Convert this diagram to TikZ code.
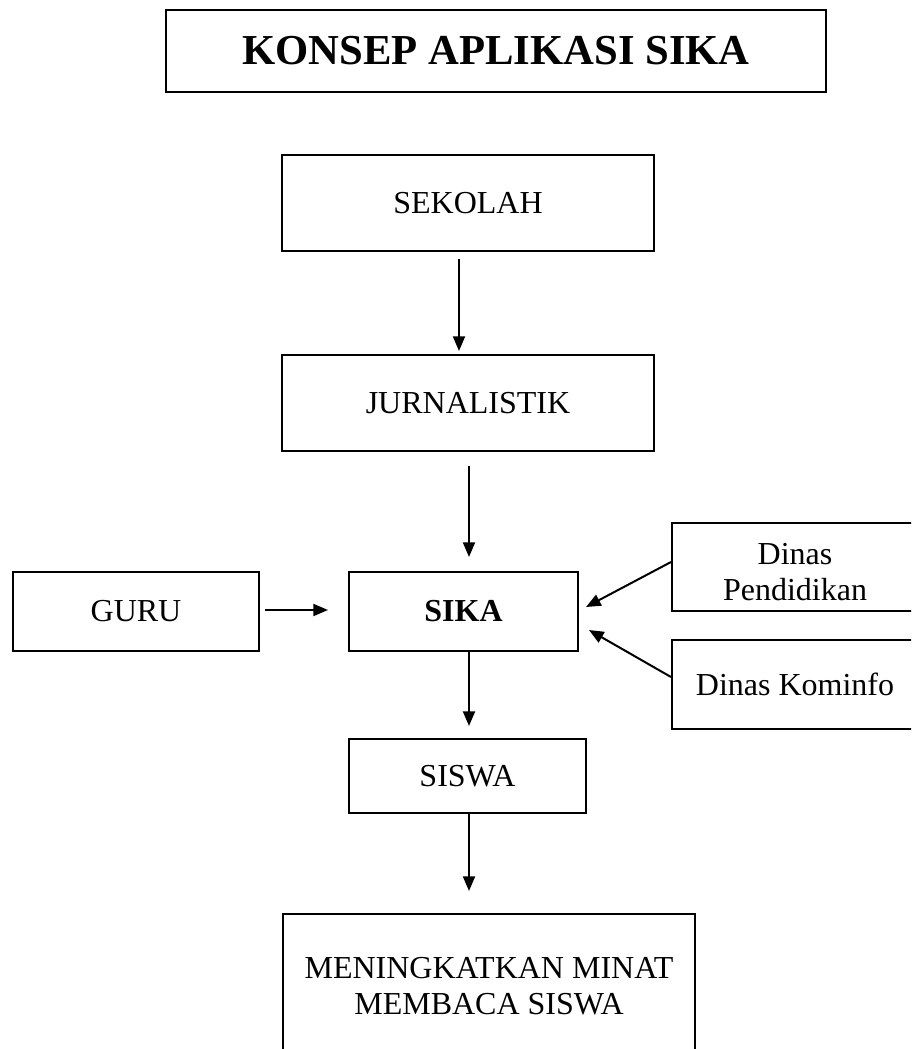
\documentclass[tikz,border=0pt]{standalone}
\usepackage{fontspec}
\setmainfont{Liberation Serif}
\usetikzlibrary{arrows.meta,calc}
\begin{document}
\begin{tikzpicture}[x=0.75pt,y=-0.75pt,
  box/.style={draw=black,line width=1.5pt,rectangle,inner sep=0pt,align=center,
    font=\fontsize{24}{27.5}\selectfont},
  arr/.style={line width=1.5pt,-{Triangle[length=11pt,width=9pt]}}]
\useasboundingbox (0,0) rectangle (911,1049);
\clip (0,0) rectangle (911,1049);
\fill[white] (0,0) rectangle (911,1049);
\node[box,minimum width=495pt,minimum height=62pt,font=\bfseries\fontsize{32}{35}\selectfont] (title) at (496,51) {KONSEP APLIKASI SIKA};
\node[box,minimum width=279pt,minimum height=72pt] (sek) at (468,203) {SEKOLAH};
\node[box,minimum width=279pt,minimum height=72pt] (jur) at (468,403) {JURNALISTIK};
\node[box,minimum width=171.75pt,minimum height=59.25pt,font=\bfseries\fontsize{24}{27.5}\selectfont] (sika) at (463.5,611.5) {SIKA};
\node[box,minimum width=184.5pt,minimum height=59.25pt] (guru) at (136,611.5) {GURU};
\node[box,minimum width=184.5pt,minimum height=66pt] (pend) at (795,567) {};
\node[font=\fontsize{24}{27.5}\selectfont,align=center,inner sep=0pt] (pendtxt) at (795,572) {Dinas\\Pendidikan};
\node[box,minimum width=184.5pt,minimum height=66.75pt] (kom) at (795,684.5) {Dinas Kominfo};
\node[box,minimum width=177.75pt,minimum height=55.5pt] (siswa) at (467.5,776) {SISWA};
\node[box,minimum width=309pt,minimum height=108pt] (minat) at (489,986) {MENINGKATKAN MINAT\\MEMBACA SISWA};
\draw[arr,shorten <=5.25pt,shorten >=2.25pt] ($(sek.south)+(-9,0)$) -- ($(jur.north)+(-9,0)$);
\draw[arr,shorten <=10.5pt,shorten >=10.5pt] ($(jur.south)+(1,0)$) -- ($(sika.north)+(5.5,0)$);
\draw[arr,shorten >=9pt] ($(sika.south)+(5.5,0)$) -- ($(siswa.north)+(1.5,0)$);
\draw[arr,shorten >=16.5pt] ($(siswa.south)+(1.5,0)$) -- ($(minat.north)+(-20,0)$);
\draw[arr,shorten <=3.75pt,shorten >=15pt] ($(guru.east)+(0,-1.5)$) -- ($(sika.west)+(0,-1.5)$);
\draw[arr] ($(pend.west)+(0,-5)$) -- ($(sika.east)+(7,-4.5)$);
\draw[arr] ($(kom.west)+(0,-7.5)$) -- ($(sika.east)+(10,18.5)$);
\end{tikzpicture}
\end{document}
